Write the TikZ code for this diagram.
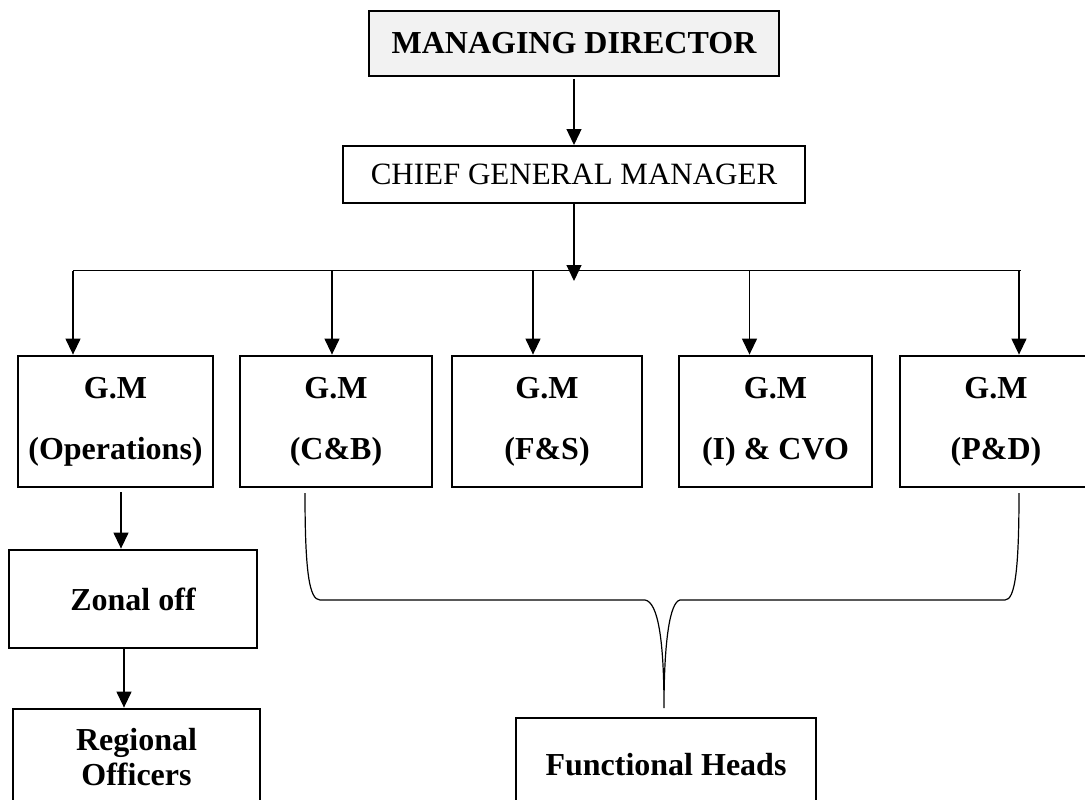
\documentclass[tikz,border=0pt]{standalone}
\usepackage{fontspec}
\setmainfont{Liberation Serif}
\usetikzlibrary{arrows.meta}
\definecolor{mdfill}{HTML}{F2F2F2}
\begin{document}
\begin{tikzpicture}[x=1pt,y=-1pt,
  box/.style={draw=black, line width=2.8pt, rectangle, inner sep=0pt, align=center,
     font=\fontsize{32}{38}\selectfont\bfseries},
  gmbox/.style={box, minimum height=131pt, font=\fontsize{32}{61}\selectfont\bfseries},
  arr/.style={draw=black, line width=1.3pt, -{Triangle[width=15pt,length=16pt]}},
  conn/.style={draw=black, line width=1.3pt}]
\clip (0,0) rectangle (1085,800);
\fill[white] (0,0) rectangle (1085,800);

\node[box, fill=mdfill, minimum width=410pt, minimum height=65pt] (md) at (574,43.5) {MANAGING DIRECTOR};
\node[box, line width=2pt, minimum width=462pt, minimum height=57pt, font=\fontsize{31}{37}\selectfont] (cgm) at (574,174.5) {CHIEF GENERAL MANAGER};

\node[gmbox, minimum width=195pt] (gm1) at (115.5,421.5) {G.M\\(Operations)};
\node[gmbox, minimum width=192pt] (gm2) at (336,421.5) {G.M\\(C\&B)};
\node[gmbox, minimum width=190pt] (gm3) at (547,421.5) {G.M\\(F\&S)};
\node[gmbox, minimum width=193pt] (gm4) at (775.5,421.5) {G.M\\(I) \& CVO};
\node[gmbox, minimum width=192pt] (gm5) at (996,421.5) {G.M\\(P\&D)};

\node[box, minimum width=248pt, minimum height=98pt] (zonal) at (133,599) {Zonal off};
\node[box, minimum width=247pt, minimum height=97pt, font=\fontsize{32}{35}\selectfont\bfseries] (regional) at (136.5,757.5) {Regional\\Officers};
\node[box, minimum width=300pt, minimum height=94pt] (func) at (666,765) {Functional Heads};

% top arrows
\coordinate (mdout) at (574,79);
\draw[arr] (mdout) -- (mdout |- cgm.north);
\coordinate (bartip) at (574,281);
\draw[arr] (cgm.south) -- (bartip);

% distribution bar
\coordinate (b1) at (73,270.5);
\coordinate (b2) at (332,270.5);
\coordinate (b3) at (533,270.5);
\coordinate (b4) at (749.5,270.5);
\coordinate (b5) at (1019,270.5);
\coordinate (bR) at (1021,270.5);
\draw[conn] (b1) -- (bR);
\draw[arr] (b1) -- (b1 |- gm1.north);
\draw[arr] (b2) -- (b2 |- gm2.north);
\draw[arr] (b3) -- (b3 |- gm3.north);
\draw[arr] (b4) -- (b4 |- gm4.north);
\draw[arr] (b5) -- (b5 |- gm5.north);

% operations chain
\coordinate (o1) at (121,492);
\draw[arr] (o1) -- (o1 |- zonal.north);
\coordinate (o2) at (124,648);
\draw[arr] (o2) -- (o2 |- regional.north);

% brace to functional heads
\coordinate (brL) at (305,493);
\coordinate (brR) at (1019,493);
\coordinate (cusp) at (664,708);
\draw[line width=1.2pt] (brL) .. controls (305,570) and (309,600) .. (320,600)
  -- (645,600) .. controls (658,602) and (664,640) .. (cusp)
  .. controls (664,640) and (670,602) .. (680,600)
  -- (1005,600) .. controls (1015,600) and (1019,570) .. (brR);
\end{tikzpicture}
\end{document}
